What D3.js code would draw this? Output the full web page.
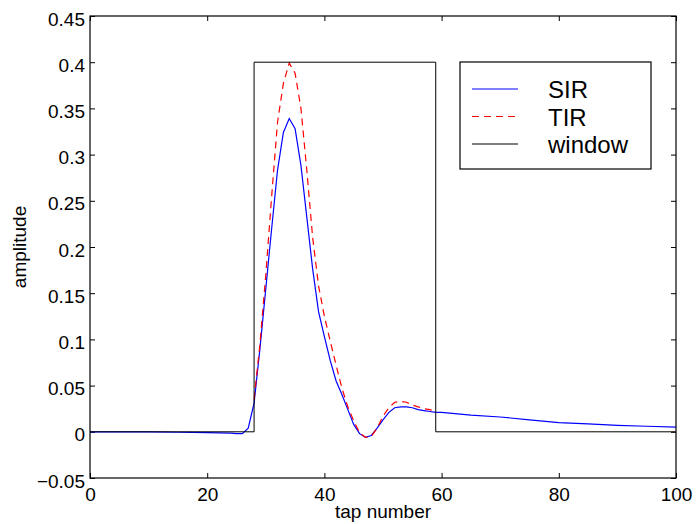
<!DOCTYPE html>
<html lang="en">
<head>
<meta charset="utf-8">
<title>SIR vs TIR</title>
<style>
  body { margin: 0; background: #fff; }
  text { font-family: "Liberation Sans", Arial, Helvetica, sans-serif; fill: #000; }
  .tick line { stroke: #000; }
</style>
</head>
<body>
<script src="https://cdn.jsdelivr.net/npm/d3@7"></script>
<script>

// tick values
var xTicks = [0, 20, 40, 60, 80, 100];
var yTicks = [-0.05, 0, 0.05, 0.1, 0.15, 0.2, 0.25, 0.3, 0.35, 0.4, 0.45];

// SIR (blue, solid)
var sirTaps = [0, 5, 10, 15, 20, 22, 24, 25, 26, 27, 28, 29, 30, 31, 32, 33, 34, 35, 36, 37, 38, 39,
               40, 41, 42, 43, 44, 45, 46, 47, 48, 49, 50, 51, 52, 53, 54, 55, 56, 57, 58, 59,
               60, 65, 70, 75, 80, 85, 90, 95, 100];
var sirValues = [0, 0, 0, -0.0005, -0.001, -0.0012, -0.0015, -0.002, -0.002, 0.004, 0.031, 0.09, 0.155, 0.22,
                 0.283, 0.324, 0.339, 0.328, 0.288, 0.232, 0.176, 0.13,
                 0.103, 0.077, 0.055, 0.04, 0.024, 0.008, -0.002, -0.006, -0.004, 0.004, 0.013, 0.021,
                 0.026, 0.027, 0.027, 0.026, 0.024, 0.023, 0.022, 0.021,
                 0.021, 0.018, 0.016, 0.013, 0.010, 0.0085, 0.007, 0.006, 0.005];

// TIR (red, dashed) - only inside the window
var tirTaps = [28, 29, 30, 31, 32, 33, 34, 35, 36, 37, 38, 39, 40, 41, 42, 43, 44, 45, 46, 47, 48, 49,
               50, 51, 52, 53, 54, 55, 56, 57, 58, 59];
var tirValues = [0.035, 0.095, 0.17, 0.255, 0.335, 0.377, 0.399, 0.388, 0.35, 0.283, 0.21, 0.158,
                 0.125, 0.098, 0.072, 0.047, 0.027, 0.012, -0.001, -0.006, -0.005, 0.004,
                 0.017, 0.026, 0.032, 0.033, 0.032, 0.029, 0.027, 0.025, 0.024, 0.022];

// window (black)
var windowTaps = [0, 28, 28, 59, 59, 100];
var windowValues = [0, 0, 0.4, 0.4, 0, 0];

var legendNames = ["SIR", "TIR", "window"];

var W = 696, H = 524;
var margin = {top: 16, right: 20, bottom: 46, left: 90};
var width = W - margin.left - margin.right,
    height = H - margin.top - margin.bottom;

var x = d3.scaleLinear().domain([0, 100]).range([0, width]);
var y = d3.scaleLinear().domain([-0.05, 0.45]).range([height, 0]);

var svg = d3.select("body").append("svg")
    .attr("width", W)
    .attr("height", H);

var g = svg.append("g")
    .attr("transform", "translate(" + margin.left + "," + margin.top + ")");

g.append("defs").append("clipPath").attr("id", "clip")
  .append("rect").attr("width", width).attr("height", height);

// axes, ticks pointing inward like matlab
var fmtY = function(d) { return d < 0 ? "\u2212" + d3.format("")(-d) : d3.format("")(d); };

var yAxis = g.append("g")
    .call(d3.axisLeft(y).tickValues(yTicks).tickFormat(fmtY).tickSizeInner(-5).tickSizeOuter(0).tickPadding(5));
yAxis.selectAll("text").attr("font-size", 19).attr("dy", "0.48em")
    .style("font-family", "'Liberation Sans', Arial, sans-serif");

var xAxis = g.append("g")
    .attr("transform", "translate(0," + height + ")")
    .call(d3.axisBottom(x).tickValues(xTicks).tickSizeInner(-5).tickSizeOuter(0).tickPadding(10));
xAxis.selectAll("text").attr("font-size", 19)
    .style("font-family", "'Liberation Sans', Arial, sans-serif");

g.append("g").attr("transform", "translate(" + width + ",0)")
    .call(d3.axisRight(y).tickValues(yTicks).tickFormat("").tickSizeInner(-5).tickSizeOuter(0));
g.append("g")
    .call(d3.axisTop(x).tickValues(xTicks).tickFormat("").tickSizeInner(-5).tickSizeOuter(0));

g.selectAll(".domain").remove();

// lines
var line = d3.line()
    .x(function(d) { return x(d[0]); })
    .y(function(d) { return y(d[1]); });

var plot = g.append("g").attr("clip-path", "url(#clip)");

plot.append("path")
    .datum(d3.zip(sirTaps, sirValues))
    .attr("fill", "none")
    .attr("stroke", "#0000ff")
    .attr("stroke-width", 1.2)
    .attr("d", line);

plot.append("path")
    .datum(d3.zip(tirTaps, tirValues))
    .attr("fill", "none")
    .attr("stroke", "#ff0000")
    .attr("stroke-width", 1.2)
    .attr("stroke-dasharray", "7,5")
    .attr("d", line);

plot.append("path")
    .datum(d3.zip(windowTaps, windowValues))
    .attr("fill", "none")
    .attr("stroke", "#000")
    .attr("stroke-width", 1)
    .attr("d", line);

// frame
g.append("rect")
    .attr("width", width)
    .attr("height", height)
    .attr("fill", "none")
    .attr("stroke", "#000")
    .attr("stroke-width", 1.2);

// axis labels
svg.append("text")
    .attr("x", margin.left + width / 2)
    .attr("y", 518)
    .attr("text-anchor", "middle")
    .attr("font-size", 19)
    .text("tap number");

svg.append("text")
    .attr("transform", "translate(26," + (margin.top + height / 2) + ") rotate(-90)")
    .attr("text-anchor", "middle")
    .attr("font-size", 19)
    .text("amplitude");

// legend
var legend = svg.append("g");
legend.append("rect")
    .attr("x", 460).attr("y", 62)
    .attr("width", 191).attr("height", 107)
    .attr("fill", "#fff")
    .attr("stroke", "#000")
    .attr("stroke-width", 1.2);

var legStyles = [
  {color: "#0000ff", dash: null},
  {color: "#ff0000", dash: "7,5"},
  {color: "#000", dash: null}
];
legendNames.forEach(function(name, i) {
  var ly = 89 + i * 27.5;
  legend.append("line")
      .attr("x1", 472).attr("x2", 518)
      .attr("y1", ly).attr("y2", ly)
      .attr("stroke", legStyles[i].color)
      .attr("stroke-width", 1.2)
      .attr("stroke-dasharray", legStyles[i].dash);
  legend.append("text")
      .attr("x", 548).attr("y", ly + 9)
      .attr("font-size", 24)
      .text(name);
});

</script>
</body>
</html>
